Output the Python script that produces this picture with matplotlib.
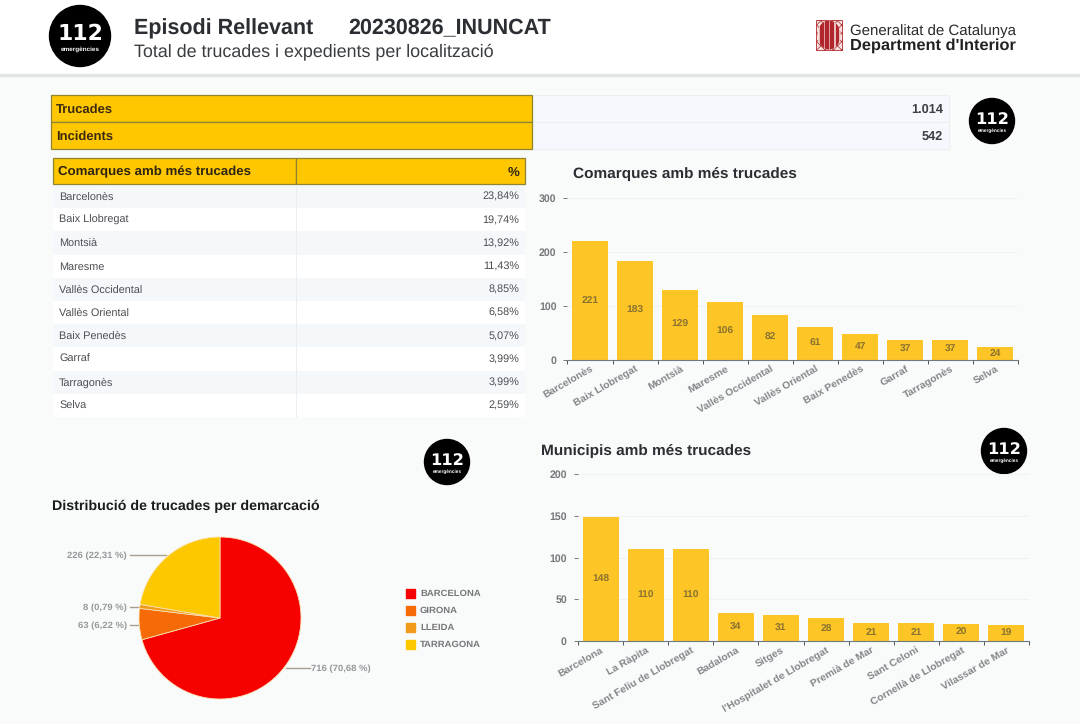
"""
Episodi Rellevant dashboard: calls per comarca, municipi and demarcacio.
"""

import matplotlib
matplotlib.use("Agg")
import matplotlib.pyplot as plt
from matplotlib.patches import Circle, Ellipse, Rectangle

plt.rcParams["font.family"] = ["Liberation Sans", "DejaVu Sans"]
plt.rcParams["text.hinting"] = "none"
plt.rcParams["hatch.linewidth"] = 0.5

W, H = 1080, 724

# data
totals_labels = ["Trucades", "Incidents"]
totals_values = ["1.014", "542"]

comarques = ["Barcelonès", "Baix Llobregat", "Montsià", "Maresme", "Vallès Occidental",
             "Vallès Oriental", "Baix Penedès", "Garraf", "Tarragonès", "Selva"]
comarques_pct = ["23,84%", "19,74%", "13,92%", "11,43%", "8,85%",
                 "6,58%", "5,07%", "3,99%", "3,99%", "2,59%"]
comarques_calls = [221, 183, 129, 106, 82, 61, 47, 37, 37, 24]

municipis = ["Barcelona", "La Ràpita", "Sant Feliu de Llobregat", "Badalona", "Sitges",
             "l'Hospitalet de Llobregat", "Premià de Mar", "Sant Celoni",
             "Cornellà de Llobregat", "Vilassar de Mar"]
municipis_calls = [148, 110, 110, 34, 31, 28, 21, 21, 20, 19]

demarcacions = ["BARCELONA", "GIRONA", "LLEIDA", "TARRAGONA"]
demarcacions_calls = [716, 63, 8, 226]
demarcacions_labels = ["716 (70,68 %)", "63 (6,22 %)", "8 (0,79 %)", "226 (22,31 %)"]
demarcacions_colors = ["#f70000", "#f76a08", "#f09a1a", "#fdc800"]

BG = "#f8fbfa"
YELLOW = "#fec700"
BAR = "#fdc526"
EDGE = "#8f8430"
GREY = "#77777b"
DARK = "#2b2f33"


def logo(ax, x, y, r):
    ax.add_patch(Circle((x, y), r, color="black", zorder=5))
    ax.text(x, y - r * 0.08, "112", color="white", fontsize=r * 0.52, fontweight="bold",
            family="DejaVu Sans", ha="center", va="center", zorder=6)
    ax.text(x, y + r * 0.42, "emergències", color="white", fontsize=r * 0.15,
            fontweight="bold", ha="center", va="center", zorder=6)


def bar_panel(rect, labels, values, ymax, step):
    ax = fig.add_axes([rect[0] / W, 1 - rect[3] / H, (rect[2] - rect[0]) / W,
                       (rect[3] - rect[1]) / H], facecolor="none")
    xs = list(range(len(values)))
    ax.bar(xs, values, width=0.8, color=BAR, zorder=2)
    for x, v in zip(xs, values):
        ax.text(x, v / 2, str(v), ha="center", va="center", fontsize=7.4,
                fontweight="bold", color="#8a7330", zorder=3)
    ax.set_xlim(-0.5, len(values) - 0.5)
    ax.set_ylim(0, ymax)
    ax.set_yticks(range(0, ymax + 1, step))
    ax.set_xticks([x - 0.5 for x in range(len(values) + 1)])
    ax.set_xticklabels([])
    ax.grid(axis="y", color="#f0f1f1", lw=0.7, zorder=0)
    for s in ["top", "left", "right"]:
        ax.spines[s].set_visible(False)
    ax.spines["bottom"].set_color("#6f7a80")
    ax.tick_params(axis="x", length=3, width=0.7, color="#555555")
    ax.tick_params(axis="y", length=3, width=0.7, color="#777777", pad=5,
                   labelsize=7.6, labelcolor=GREY)
    for t in ax.get_yticklabels():
        t.set_fontweight("bold")
    for x, name in zip(xs, labels):
        ax.annotate(name, (x, 0), xytext=(0, -3), textcoords="offset points",
                    rotation=30, rotation_mode="anchor", ha="right", va="top",
                    fontsize=7.5, fontweight="bold", color="#85858a")
    return ax


fig = plt.figure(figsize=(W / 100, H / 100), dpi=100, facecolor=BG)

# page overlay in pixel coordinates
page = fig.add_axes([0, 0, 1, 1])
page.set_xlim(0, W)
page.set_ylim(H, 0)
page.axis("off")

# header
page.add_patch(Rectangle((0, 0), W, 75, color="white", zorder=0))
page.add_patch(Rectangle((0, 74), W, 2, color="#e2e4e4", zorder=1))
logo(page, 80, 36, 30.5)
page.text(134, 26, "Episodi Rellevant", fontsize=15.5, fontweight="bold", color=DARK, va="center_baseline")
page.text(348, 26, "20230826_INUNCAT", fontsize=15.5, fontweight="bold", color=DARK, va="center_baseline")
page.text(134, 50, "Total de trucades i expedients per localització", fontsize=12.9,
          color="#3a3d40", va="center_baseline")

# generalitat mark
page.add_patch(Rectangle((816, 20), 26, 30, fc="#f6e3df", ec="#b0262c", lw=0.6, hatch="xxxx", zorder=1))
shield = Ellipse((829, 35), 23, 29, fc="#f6e3df", ec="none", zorder=2)
page.add_patch(shield)
for i in range(4):
    stripe = Rectangle((820 + i * 5.2, 20), 2.8, 30, color="#b0262c", zorder=3)
    page.add_patch(stripe)
    stripe.set_clip_path(shield)
page.text(850, 29, "Generalitat de Catalunya", fontsize=10.8, color="#2a2a2a", va="center_baseline")
page.text(850, 44, "Department d'Interior", fontsize=11.8, fontweight="bold", color="#222222", va="center_baseline")

# totals table
for i, (name, val) in enumerate(zip(totals_labels, totals_values)):
    top = 95 + i * 27
    page.add_patch(Rectangle((532, top), 417, 27, fc="#f5f8fc", ec="#eaeef0", lw=0.6, zorder=1))
    page.add_patch(Rectangle((50.5, top), 481.5, 27, fc=YELLOW, ec=EDGE, lw=0.9, zorder=2))
    page.text(56, top + 13.5, name, fontsize=9.4, fontweight="bold", color="#3b2a10", va="center_baseline", zorder=3)
    page.text(943, top + 13.5, val, fontsize=9.2, fontweight="bold", color="#3c3f44",
              ha="right", va="center_baseline", zorder=3)
logo(page, 992, 121, 22.5)

# comarques table
page.add_patch(Rectangle((53, 158), 243, 26, fc=YELLOW, ec=EDGE, lw=0.9, zorder=2))
page.add_patch(Rectangle((296, 158), 229, 26, fc=YELLOW, ec=EDGE, lw=0.9, zorder=2))
page.text(58, 171, "Comarques amb més trucades", fontsize=9.5, fontweight="bold", color="#2e2410",
          va="center_baseline", zorder=3)
page.text(519, 171, "%", fontsize=9.5, fontweight="bold", color="#2e2410", ha="right", va="center_baseline", zorder=3)
for i, (name, pct) in enumerate(zip(comarques, comarques_pct)):
    top = 185 + i * 23.2
    fc = "#f5f8fb" if i % 2 == 0 else "white"
    page.add_patch(Rectangle((53, top), 472, 23.2, fc=fc, ec="none", zorder=1))
    page.plot([296, 296], [top, top + 23.2], color="#e9edf0", lw=0.6, zorder=2)
    page.text(59, top + 11, name, fontsize=7.8, color="#4b4e52", va="center_baseline", zorder=3)
    page.text(519, top + 11, pct, fontsize=7.8, color="#4b4e52", ha="right", va="center_baseline", zorder=3)

# section titles and loose logos
page.text(573, 172, "Comarques amb més trucades", fontsize=11.1, fontweight="bold", color=DARK, va="center_baseline")
page.text(541, 449, "Municipis amb més trucades", fontsize=11.1, fontweight="bold", color=DARK, va="center_baseline")
page.text(52, 505, "Distribució de trucades per demarcació", fontsize=10.3, fontweight="bold",
          color="#1c1c1c", va="center_baseline")
logo(page, 447, 462, 22.5)
logo(page, 1004, 451, 22.5)

# bar charts
bar_panel((567.5, 198, 1018, 359.5), comarques, comarques_calls, 300, 100)
bar_panel((578, 474, 1029, 641), municipis, municipis_calls, 200, 50)

# pie chart
pie_ax = fig.add_axes([(220 - 81) / W, 1 - (618 + 81) / H, 162 / W, 162 / H])
pie_ax.pie(demarcacions_calls, colors=demarcacions_colors, startangle=90, counterclock=False,
           radius=1.0, wedgeprops={"edgecolor": "#f8e0b0", "linewidth": 0.6})
pie_ax.set_xlim(-1, 1)
pie_ax.set_ylim(-1, 1)

# pie leader lines and labels
leaders = [(286, 668, 310, 668, 311, "left"), (130, 625, 138, 625, 127, "right"),
           (130, 607, 139, 607, 127, "right"), (130, 555, 166, 555, 127, "right")]
for (x0, y0, x1, y1, tx, align), text in zip(leaders, demarcacions_labels):
    page.plot([x0, x1], [y0, y1], color="#a89f8a", lw=1.0, zorder=1)
    page.text(tx, y0, text, fontsize=6.8, fontweight="bold", color="#98989c", ha=align, va="center_baseline")

# pie legend
for i, (name, color) in enumerate(zip(demarcacions, demarcacions_colors)):
    y = 593 + i * 17
    page.add_patch(Rectangle((406, y - 4), 8.5, 8.5, color=color, zorder=2))
    page.text(420, y, name, fontsize=6.8, fontweight="bold", color=GREY, va="center_baseline")

fig.savefig("out.png", dpi=100, facecolor=BG)
